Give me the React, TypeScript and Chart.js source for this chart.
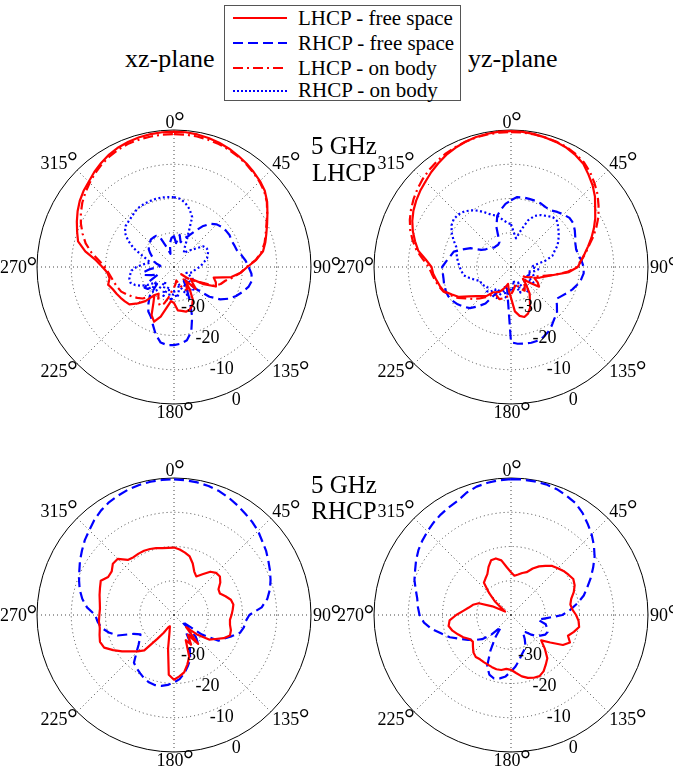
import React, { useEffect, useRef } from 'react';
import { Chart, registerables } from 'chart.js';

Chart.register(...registerables);

// ---------- categories (angle in degrees, clockwise from top) ----------
const ANGLE_LABELS = [
  '0', '5', '10', '15', '20', '25', '30', '35', '40', '45', '50', '55',
  '60', '65', '70', '75', '80', '85', '90', '95', '100', '105', '110', '115',
  '120', '125', '130', '135', '140', '145', '150', '155', '160', '165', '170', '175',
  '180', '185', '190', '195', '200', '205', '210', '215', '220', '225', '230', '235',
  '240', '245', '250', '255', '260', '265', '270', '275', '280', '285', '290', '295',
  '300', '305', '310', '315', '320', '325', '330', '335', '340', '345', '350', '355',
];
const ANGLE_TICKS = [0, 45, 90, 135, 180, 225, 270, 315];
const R_TICKS = [-30, -20, -10, 0];
const R_LABEL_ANGLE = '155';

// ---------- xz-plane, 5 GHz LHCP (top left) ----------
const TL_LHCP_FREE = [
  -0.5, -0.5, -0.7, -1.0, -1.4, -1.9, -2.5, -3.1, -3.8, -4.5, -5.4, -6.8,
  -8.5, -10, -11.3, -12.4, -13.6, -15.9, -18.6, -20.5, -23, -28, -27, -26.5,
  -30, -34, -33, -31, -35, -32, -29, -27.5, -26.7, -26.5, -27, -27.3,
  -29.5, -30, -28, -25, -23, -24.5, -28, -30, -27, -25, -23, -22.5,
  -22, -21.5, -21, -20.1, -20.9, -20.5, -19.1, -17.1, -13.7, -11, -9.9, -8.7,
  -7.5, -6.4, -5.5, -4.8, -3.8, -2.9, -2.1, -1.5, -1.1, -0.8, -0.6, -0.5,
];
const TL_RHCP_FREE = [
  -31, -33, -30.5, -32.5, -31, -30, -28, -25.5, -23.5, -22.4, -21.8, -21.5,
  -21.3, -21.5, -21.3, -21, -20, -19, -18.2, -17.3, -16.9, -17.5, -18.7, -20,
  -21.5, -23.5, -26.5, -31, -35, -35, -32.5, -29, -24.5, -20.5, -18.3, -17.5,
  -17.2, -17.1, -17.6, -19.5, -22, -24, -25, -27, -29, -33, -30, -29.5,
  -32, -35, -33, -31, -30.8, -33, -35.5, -36, -35, -34, -33.5, -33,
  -32, -31, -30.5, -30, -29.5, -29.5, -29.5, -30.5, -34, -36, -33, -31.5,
];
const TL_LHCP_BODY = [
  -1.2, -1.2, -1.3, -1.5, -1.8, -2.2, -2.7, -3.3, -4, -4.7, -5.6, -6.9,
  -8.6, -10.2, -11.5, -12.6, -14, -16, -18.8, -20.5, -22.5, -24.5, -25.5, -27,
  -31, -33, -35, -37, -36, -34, -32, -33, -34, -35, -36, -35,
  -34, -33, -31, -29, -28, -29, -31, -30, -28.5, -27, -26, -25,
  -24, -23, -22.5, -22, -21.5, -20.8, -19.8, -18, -15.5, -13.3, -11.6, -10,
  -8.6, -7.3, -6.2, -5.2, -4.2, -3.3, -2.6, -2, -1.6, -1.4, -1.3, -1.2,
];
const TL_RHCP_BODY = [
  -19.6, -20, -21, -22.5, -24.5, -31, -34, -35, -34, -33, -31.5, -29.5,
  -29, -29, -29.5, -30, -31, -31.8, -32.5, -33.5, -34, -34.3, -35, -36,
  -34, -33, -35, -33, -31, -32, -34, -31, -33, -35, -32, -31,
  -33, -30, -32, -34, -31, -33, -35, -32, -30.5, -31, -33, -31,
  -29, -27.5, -26.5, -26.5, -27, -27.5, -29, -31, -33, -32, -30, -27,
  -24.5, -22.5, -21.5, -21.2, -20.8, -20.2, -19.8, -19.6, -19.5, -19.4, -19.4, -19.5,
];

// ---------- yz-plane, 5 GHz LHCP (top right) ----------
const TR_LHCP_FREE = [
  -0.3, -0.4, -0.6, -0.9, -1.2, -1.6, -2.3, -3.2, -4.8, -6.3, -8, -10,
  -11.6, -13.3, -15, -16.7, -18.2, -19.5, -20.5, -23, -27, -29.5, -31, -32.5,
  -31, -30, -33, -35, -33, -30.5, -29, -26.8, -25.5, -24.9, -25.5, -27,
  -31, -33, -35, -34, -33, -32, -31.5, -31, -29, -28, -26.8, -25,
  -22.5, -21, -19.2, -18.5, -17.9, -17.2, -16.8, -15, -12.5, -11, -9.5, -8.2,
  -7.1, -6.2, -5.4, -4.7, -3.8, -3, -2.2, -1.6, -1.1, -0.7, -0.5, -0.3,
];
const TR_RHCP_FREE = [
  -20.5, -19.5, -19.4, -19.4, -19.4, -19.5, -19.8, -19.8, -19, -18.3, -17.7, -17.8,
  -18.5, -19.3, -20, -20.3, -20, -19.3, -18.8, -18.7, -19.2, -20, -20.9, -22,
  -23, -23.8, -22.5, -21, -20.3, -19.2, -18.2, -17.5, -17.1, -17.1, -17.3, -17.5,
  -18, -30, -33.5, -34, -33.5, -33, -31, -27, -25, -23, -22, -21,
  -20.3, -19.8, -19.7, -19.8, -20, -20, -19.9, -21, -22, -22.7, -25, -27,
  -30, -31, -31.5, -32, -32.5, -32.5, -32.5, -32, -27.5, -24.5, -23, -21.5,
];
const TR_LHCP_BODY = [
  -0.6, -0.6, -0.7, -0.9, -1.1, -1.4, -2, -2.8, -4, -5.5, -7, -8.8,
  -10.5, -12.5, -14.5, -16.5, -18, -19.5, -20.7, -23.5, -27, -30, -32, -33,
  -34, -35, -36, -35, -34, -33, -32, -33, -34, -35, -34, -33,
  -32, -31.5, -31, -30.5, -30, -30.5, -31, -30, -28.5, -27, -25.5, -24,
  -22, -20.5, -19, -18.2, -17.5, -16.8, -16, -14.2, -12, -10.3, -8.7, -7.4,
  -6.3, -5.3, -4.4, -3.6, -2.9, -2.3, -1.8, -1.4, -1.1, -0.8, -0.7, -0.6,
];
const TR_RHCP_BODY = [
  -27.5, -30, -31.5, -29, -25.5, -23.5, -22.5, -21.8, -21, -21, -22, -23,
  -24, -25, -26.5, -27.5, -30, -33, -34, -32, -33, -35, -33, -35,
  -34, -32, -34, -35, -33, -31, -33, -35, -32, -34, -36, -33,
  -34, -32, -31, -33, -32, -30, -31, -32, -30.5, -30, -31, -30.5,
  -30, -30.2, -29, -27.5, -26, -25.5, -25, -24.5, -24, -23.5, -23, -21.5,
  -20, -18.8, -18.2, -18.3, -18.8, -19.8, -21, -22.5, -23.8, -24.5, -26, -27,
];

// ---------- xz-plane, 5 GHz RHCP (bottom left) ----------
const BL_LHCP_FREE = [
  -20.3, -20.8, -21.5, -22.3, -24, -26, -27, -25.5, -23.5, -22.6, -22.5, -23.5,
  -25, -25.2, -24, -22.8, -22.4, -22.8, -23.2, -23.6, -23.4, -22.8, -22.6, -24,
  -26, -27.5, -31, -35, -29, -33, -30, -31.9, -27, -25, -23, -22,
  -21.1, -22.5, -30, -35, -36.5, -36, -34, -31.5, -26.5, -25, -23.5, -21.5,
  -19.5, -17.5, -17, -17.5, -18, -18, -18.2, -18.3, -18, -17.5, -17, -16.4,
  -17.8, -17.8, -16.7, -16.8, -19, -19.4, -19.3, -19.3, -19.5, -19.8, -20.2, -20.3,
];
const BL_RHCP_FREE = [
  -0.4, -0.5, -0.7, -1, -1.5, -2.2, -3, -3.8, -4.5, -5.3, -6.4, -7.2,
  -8.2, -9.1, -10, -11, -12.3, -14.3, -18, -19, -19.3, -20, -22, -23.8,
  -25, -30, -37, -31, -29, -34, -30, -29, -26.2, -24.5, -22.7, -21.2,
  -20.3, -19.5, -19, -18.8, -19, -19.5, -20.3, -21, -21.8, -24.5, -26.5, -27.8,
  -28.7, -27, -22.5, -20.3, -18.5, -17.6, -17, -14.5, -12.8, -11.5, -10.5, -9.5,
  -8.3, -7.2, -6, -5, -3.8, -2.8, -2, -1.5, -1, -0.7, -0.5, -0.4,
];

// ---------- yz-plane, 5 GHz RHCP (bottom right) ----------
const BR_LHCP_FREE = [
  -27.5, -28.5, -28, -27.3, -26.7, -25, -23.6, -22.5, -21.3, -20.7, -20, -19.5,
  -19, -19.5, -20.5, -21.8, -22.4, -22, -21, -20.2, -19.8, -21, -22.3, -21,
  -22.5, -26, -28.5, -26, -23.5, -22.3, -21, -20.3, -20.5, -21, -21.8, -23,
  -24, -24.2, -23.7, -23.6, -23.8, -24, -24.1, -24.2, -24, -24.5, -25.5, -26.4,
  -26, -24.6, -23.5, -22.3, -21.5, -22, -24, -26, -27.5, -28.5, -30, -34,
  -38, -37, -34, -31, -27.7, -27, -26.2, -24.5, -23, -22.9, -23.8, -26,
];
const BR_RHCP_FREE = [
  -0.3, -0.3, -0.4, -0.5, -0.9, -1.6, -2.3, -3.6, -5.2, -6.7, -8.4, -10.2,
  -12.3, -14.3, -16.3, -18, -20.3, -22.6, -25, -29.5, -32, -29.5, -28.8, -28.2,
  -28.5, -29.5, -30.6, -32, -33.5, -34, -32, -30, -29, -28, -26.5, -24.9,
  -23.5, -22, -21.2, -20.8, -21.5, -23.5, -28, -32, -35.5, -32, -29, -27.3,
  -25.5, -23.5, -21, -19, -16.5, -14.5, -13.3, -12.7, -12.2, -11.2, -10, -9.1,
  -8, -7, -6.2, -5.5, -4.8, -4.2, -3.7, -3.2, -2, -1.2, -0.8, -0.5,
];

// ---------- styles ----------
const RED = '#ff0000';
const BLUE = '#0000ff';
const DASH_SOLID: number[] = [];
const DASH_DASHED = [10, 5];
const DASH_DASHDOT = [10, 4, 2, 4];
const DASH_DOTTED = [2, 2.5];

const SERIES_NAMES = ['LHCP - free space', 'RHCP - free space', 'LHCP - on body', 'RHCP - on body'];

type Series = { label: string; data: number[]; color: string; dash: number[] };

const TL_SERIES: Series[] = [
  { label: SERIES_NAMES[0], data: TL_LHCP_FREE, color: RED, dash: DASH_SOLID },
  { label: SERIES_NAMES[1], data: TL_RHCP_FREE, color: BLUE, dash: DASH_DASHED },
  { label: SERIES_NAMES[2], data: TL_LHCP_BODY, color: RED, dash: DASH_DASHDOT },
  { label: SERIES_NAMES[3], data: TL_RHCP_BODY, color: BLUE, dash: DASH_DOTTED },
];
const TR_SERIES: Series[] = [
  { label: SERIES_NAMES[0], data: TR_LHCP_FREE, color: RED, dash: DASH_SOLID },
  { label: SERIES_NAMES[1], data: TR_RHCP_FREE, color: BLUE, dash: DASH_DASHED },
  { label: SERIES_NAMES[2], data: TR_LHCP_BODY, color: RED, dash: DASH_DASHDOT },
  { label: SERIES_NAMES[3], data: TR_RHCP_BODY, color: BLUE, dash: DASH_DOTTED },
];
const BL_SERIES: Series[] = [
  { label: SERIES_NAMES[0], data: BL_LHCP_FREE, color: RED, dash: DASH_SOLID },
  { label: SERIES_NAMES[1], data: BL_RHCP_FREE, color: BLUE, dash: DASH_DASHED },
];
const BR_SERIES: Series[] = [
  { label: SERIES_NAMES[0], data: BR_LHCP_FREE, color: RED, dash: DASH_SOLID },
  { label: SERIES_NAMES[1], data: BR_RHCP_FREE, color: BLUE, dash: DASH_DASHED },
];

const FONT_FAMILY = '"Liberation Serif", "Times New Roman", serif';

function drawDegLabel(ctx: CanvasRenderingContext2D, text: string, x: number, y: number, deg: number) {
  const numFont = `18px ${FONT_FAMILY}`;
  const degFont = `27px ${FONT_FAMILY}`;
  ctx.font = numFont;
  const wn = ctx.measureText(text).width;
  ctx.font = degFont;
  const wd = ctx.measureText('°').width;
  const w = wn + wd * 0.75;
  const cap = 12;
  let x0: number;
  if (deg === 0 || deg === 180) x0 = x - w / 2;
  else if (deg < 180) x0 = x;
  else x0 = x - w;
  let base: number;
  if (deg === 90 || deg === 270) base = y + cap / 2;
  else if (deg > 90 && deg < 270) base = y + cap;
  else base = y;
  ctx.textAlign = 'left';
  ctx.textBaseline = 'alphabetic';
  ctx.font = numFont;
  ctx.fillText(text, x0, base);
  ctx.font = degFont;
  ctx.fillText('°', x0 + wn - 0.5, base + 1.5);
}

const polarText = {
  id: 'polarText',
  afterDraw(chart: any) {
    const s = chart.scales.r;
    const ctx: CanvasRenderingContext2D = chart.ctx;
    ctx.save();
    ctx.fillStyle = '#000';
    ANGLE_TICKS.forEach((deg) => {
      const idx = ANGLE_LABELS.indexOf(String(deg));
      const p = s.getPointPosition(idx, s.drawingArea + 2);
      drawDegLabel(ctx, String(deg), p.x, p.y, deg);
    });
    const li = ANGLE_LABELS.indexOf(R_LABEL_ANGLE);
    ctx.font = `18px ${FONT_FAMILY}`;
    ctx.textAlign = 'center';
    ctx.textBaseline = 'middle';
    R_TICKS.forEach((v) => {
      const p = s.getPointPosition(li, s.getDistanceFromCenterForValue(v) + 10.5);
      ctx.fillText(String(v), p.x, p.y);
    });
    ctx.restore();
  },
};

function makeConfig(series: Series[]): any {
  return {
    type: 'radar',
    data: {
      labels: ANGLE_LABELS,
      datasets: series.map((s) => ({
        label: s.label,
        data: s.data,
        borderColor: s.color,
        backgroundColor: s.color,
        borderWidth: 2.2,
        borderDash: s.dash,
        borderJoinStyle: 'round',
        fill: false,
        pointRadius: 0,
        pointHoverRadius: 0,
        tension: 0,
      })),
    },
    options: {
      responsive: false,
      animation: false,
      events: [],
      layout: { padding: { left: 43, right: 43, top: 28, bottom: 28 } },
      plugins: { legend: { display: false }, tooltip: { enabled: false }, title: { display: false } },
      scales: {
        r: {
          min: -40,
          max: 0,
          startAngle: 0,
          ticks: { display: false, stepSize: 10 },
          pointLabels: { display: false },
          grid: {
            circular: true,
            lineWidth: 1,
            color: (c: any) => (c.tick && c.tick.value === -40 ? 'rgba(0,0,0,0)' : (c.tick && c.tick.value === 0 ? '#000' : '#444')),
          },
          border: {
            dash: (c: any) => (c.tick && c.tick.value === 0 ? [] : [1, 3]),
          },
          angleLines: {
            display: true,
            lineWidth: 1,
            borderDash: [1, 3],
            color: (c: any) => (c.index % 9 === 0 ? '#444' : 'rgba(0,0,0,0)'),
          },
        },
      },
    },
    plugins: [polarText],
  };
}

function PolarPlot({ cx, cy, series }: { cx: number; cy: number; series: Series[] }) {
  const ref = useRef<HTMLCanvasElement>(null);
  useEffect(() => {
    if (!ref.current) return;
    const chart = new Chart(ref.current, makeConfig(series));
    return () => chart.destroy();
  }, [series]);
  return (
    <canvas
      ref={ref}
      width={360}
      height={330}
      style={{ position: 'absolute', left: cx - 180, top: cy - 165, width: 360, height: 330 }}
    />
  );
}

const LEGEND_ROWS = [
  { y: 18.3, color: RED, dash: '' },
  { y: 43.3, color: BLUE, dash: '10 5' },
  { y: 68.3, color: RED, dash: '10 4 2 4' },
  { y: 90.7, color: BLUE, dash: '2 2' },
];

function Legend() {
  return (
    <>
      <div
        style={{
          position: 'absolute', left: 224, top: 5, width: 237, height: 96,
          border: '1px solid #555', boxSizing: 'border-box', background: '#fff',
        }}
      />
      {LEGEND_ROWS.map((r, i) => (
        <React.Fragment key={i}>
          <svg width={54} height={8} style={{ position: 'absolute', left: 233, top: r.y - 4 }}>
            <line x1={0} y1={4} x2={54} y2={4} stroke={r.color} strokeWidth={2} strokeDasharray={r.dash || undefined} />
          </svg>
          <div
            style={{
              position: 'absolute', left: 298, top: r.y + 7.2 - 17.6, fontSize: 21, lineHeight: '21px',
              whiteSpace: 'nowrap', fontFamily: FONT_FAMILY,
            }}
          >
            {SERIES_NAMES[i]}
          </div>
        </React.Fragment>
      ))}
    </>
  );
}

export default function App() {
  return (
    <div
      style={{
        position: 'absolute', left: 0, top: 0, width: 673, height: 770, overflow: 'hidden',
        background: '#fff', color: '#000', fontFamily: FONT_FAMILY,
      }}
    >
      <PolarPlot cx={174} cy={267} series={TL_SERIES} />
      <PolarPlot cx={511} cy={267} series={TR_SERIES} />
      <PolarPlot cx={174} cy={615} series={BL_SERIES} />
      <PolarPlot cx={511} cy={615} series={BR_SERIES} />
      <div style={{ position: 'absolute', left: 125, top: 46, fontSize: 26, lineHeight: '26px', whiteSpace: 'nowrap' }}>xz-plane</div>
      <div style={{ position: 'absolute', left: 468, top: 46, fontSize: 26, lineHeight: '26px', whiteSpace: 'nowrap' }}>yz-plane</div>
      <Legend />
      <div style={{ position: 'absolute', left: 294, top: 133, width: 100, textAlign: 'center', fontSize: 25, lineHeight: '26.5px' }}>
        5 GHz<br />LHCP
      </div>
      <div style={{ position: 'absolute', left: 294, top: 472, width: 100, textAlign: 'center', fontSize: 25, lineHeight: '26px' }}>
        5 GHz<br />RHCP
      </div>
    </div>
  );
}
